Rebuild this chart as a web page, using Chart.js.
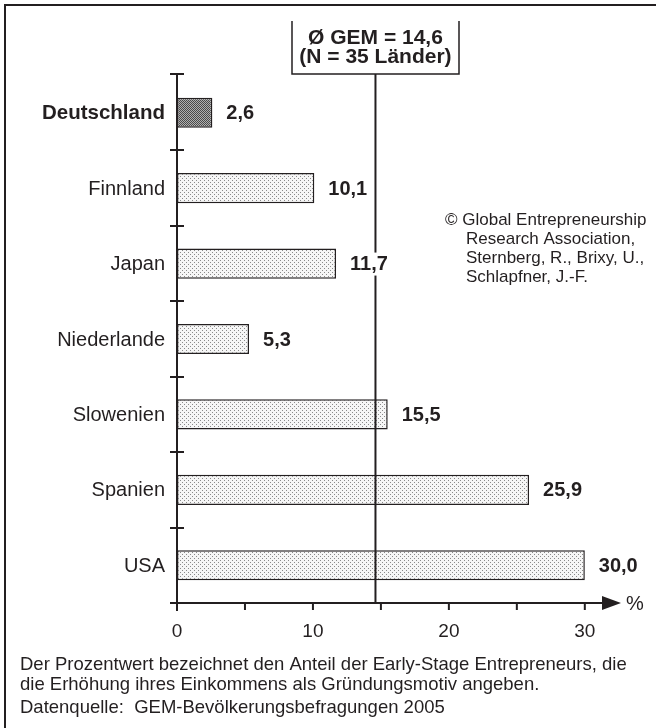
<!DOCTYPE html>
<html>
<head>
<meta charset="utf-8">
<script src="https://cdn.jsdelivr.net/npm/chart.js@4/dist/chart.umd.min.js"></script>
<style>
  html, body { margin: 0; padding: 0; background: #fff; }
  #wrap { width: 656px; height: 728px; position: relative; }
</style>
</head>
<body>
<div id="wrap"><canvas id="chart" width="656" height="728"></canvas></div>
<script>
const countries = ['Deutschland', 'Finnland', 'Japan', 'Niederlande', 'Slowenien', 'Spanien', 'USA'];
const shares = [2.6, 10.1, 11.7, 5.3, 15.5, 25.9, 30.0];
const xTickLabels = [0, 10, 20, 30];
const gemMean = 14.6;
const meanBoxLines = ['Ø GEM = 14,6', '(N = 35 Länder)'];
const copyrightLines = ['© Global Entrepreneurship', 'Research Association,', 'Sternberg, R., Brixy, U.,', 'Schlapfner, J.-F.'];
const footerLines = [
  'Der Prozentwert bezeichnet den Anteil der Early-Stage Entrepreneurs, die',
  'die Erhöhung ihres Einkommens als Gründungsmotiv angeben.',
  'Datenquelle:  GEM-Bevölkerungsbefragungen 2005'
];

const FONT = '"Liberation Sans", Arial, sans-serif';
const INK = '#231f20';

// dotted fills like the print original
function makeDots(size, bg, dot, coords) {
  const c = document.createElement('canvas');
  c.width = size; c.height = size;
  const g = c.getContext('2d');
  g.fillStyle = bg; g.fillRect(0, 0, size, size);
  g.fillStyle = dot;
  coords.forEach(p => g.fillRect(p[0], p[1], 1, 1));
  return g.createPattern(c, 'repeat');
}
const ctx0 = document.getElementById('chart').getContext('2d');
const lightDots = makeDots(4, '#f6f6f6', '#8a8a8a', [[0, 0], [2, 2]]);
const darkDots = makeDots(2, '#b0b0b0', '#4a4a4a', [[0, 0], [1, 1]]);
const fills = countries.map((c, i) => i === 0 ? darkDots : lightDots);

const fmt = v => v.toFixed(1).replace('.', ',');

const decorPlugin = {
  id: 'decor',
  afterDatasetsDraw(chart) {
    const ctx = chart.ctx;
    const xs = chart.scales.x, ys = chart.scales.y;
    const x0 = xs.getPixelForValue(0);
    const yTop = chart.chartArea.top, yBot = chart.chartArea.bottom;
    const step = (yBot - yTop) / countries.length;
    ctx.save();
    ctx.strokeStyle = INK; ctx.fillStyle = INK; ctx.lineWidth = 2;

    // outer frame
    ctx.beginPath();
    ctx.moveTo(5, 740); ctx.lineTo(5, 5); ctx.lineTo(670, 5);
    ctx.stroke();

    // mean line and its box
    const xm = xs.getPixelForValue(gemMean);
    ctx.beginPath(); ctx.moveTo(xm, yTop - 1); ctx.lineTo(xm, yBot); ctx.stroke();
    ctx.lineWidth = 1.5;
    ctx.beginPath();
    ctx.moveTo(292, 21); ctx.lineTo(292, 74); ctx.lineTo(459, 74); ctx.lineTo(459, 21);
    ctx.stroke();
    ctx.font = 'bold 21px ' + FONT;
    ctx.textAlign = 'center'; ctx.textBaseline = 'middle';
    ctx.fillText(meanBoxLines[0], xm, 38);
    ctx.fillText(meanBoxLines[1], xm, 57);

    // y axis with cap and category separators
    ctx.lineWidth = 2;
    ctx.beginPath();
    ctx.moveTo(x0, yTop - 1); ctx.lineTo(x0, yBot + 8);
    ctx.moveTo(x0 - 7, yTop - 1); ctx.lineTo(x0 + 7, yTop - 1);
    for (let i = 1; i < countries.length; i++) {
      const y = Math.round(yTop + i * step);
      ctx.moveTo(x0 - 7, y); ctx.lineTo(x0 + 7, y);
    }
    ctx.stroke();

    // x axis with arrow
    ctx.beginPath();
    ctx.moveTo(x0 - 7, yBot); ctx.lineTo(604, yBot);
    for (let v = 5; v <= 30; v += 5) {
      const x = xs.getPixelForValue(v);
      ctx.moveTo(x, yBot); ctx.lineTo(x, yBot + 7);
    }
    ctx.stroke();
    ctx.beginPath();
    ctx.moveTo(602, yBot - 7); ctx.lineTo(621, yBot); ctx.lineTo(602, yBot + 7);
    ctx.closePath(); ctx.fill();
    ctx.font = '20px ' + FONT;
    ctx.textAlign = 'left';
    ctx.fillText('%', 626, yBot + 1);
    ctx.textAlign = 'center';
    ctx.font = '19px ' + FONT;
    xTickLabels.forEach(v => ctx.fillText(String(v), xs.getPixelForValue(v), 632));

    // category labels and values
    const meta = chart.getDatasetMeta(0);
    countries.forEach((c, i) => {
      const y = ys.getPixelForValue(i);
      ctx.font = (i === 0 ? 'bold 20.5px ' : '20px ') + FONT;
      ctx.textAlign = 'right';
      ctx.fillStyle = INK;
      ctx.fillText(c, 165, y + 1);
      ctx.font = 'bold 20px ' + FONT;
      ctx.textAlign = 'left';
      const lx = meta.data[i].x + 14;
      const w = ctx.measureText(fmt(shares[i])).width;
      ctx.fillStyle = '#fff';
      ctx.fillRect(lx - 2, y - 11, w + 4, 23);
      ctx.fillStyle = INK;
      ctx.fillText(fmt(shares[i]), lx, y + 1);
    });

    // copyright note
    ctx.font = '17px ' + FONT;
    ctx.textAlign = 'left';
    copyrightLines.forEach((t, i) => ctx.fillText(t, i === 0 ? 445 : 466, 220 + i * 19));

    // footer
    ctx.font = '18.5px ' + FONT;
    footerLines.forEach((t, i) => ctx.fillText(t, 20, [665, 685, 708][i]));
    ctx.restore();
  }
};

new Chart(ctx0, {
  type: 'bar',
  data: {
    labels: countries,
    datasets: [{
      data: shares,
      backgroundColor: fills,
      borderColor: INK,
      borderWidth: 1.5,
      borderSkipped: false,
      categoryPercentage: 1,
      barPercentage: 0.4
    }]
  },
  options: {
    indexAxis: 'y',
    responsive: false,
    animation: false,
    layout: { padding: { left: 177, right: 44, top: 75, bottom: 125 } },
    plugins: { legend: { display: false }, tooltip: { enabled: false } },
    scales: {
      x: { display: false, min: 0, max: 32 },
      y: { display: false }
    }
  },
  plugins: [decorPlugin]
});
</script>
</body>
</html>
